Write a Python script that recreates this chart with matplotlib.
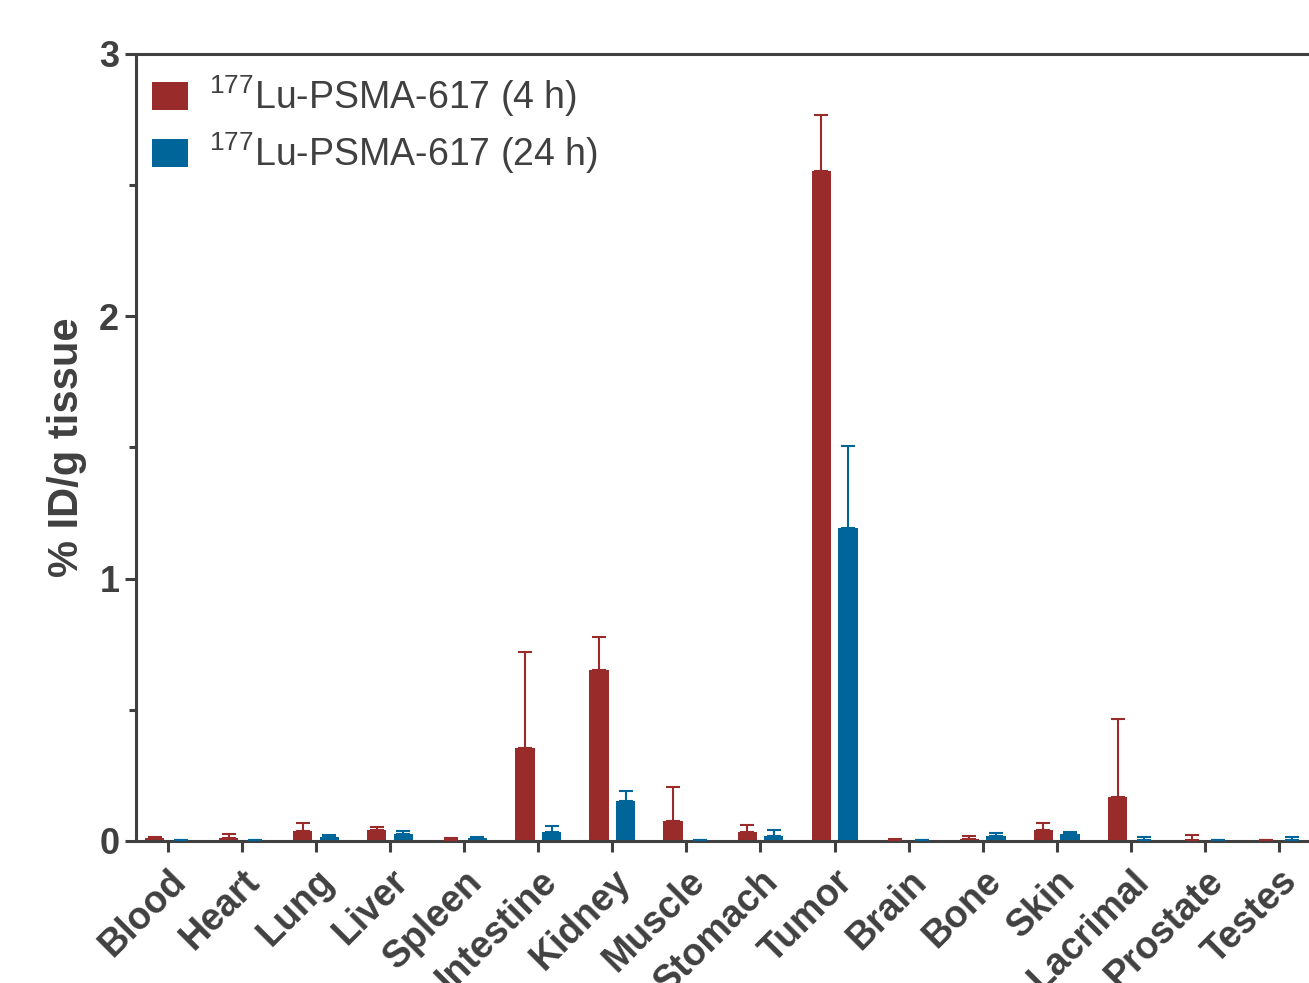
import matplotlib
matplotlib.use("Agg")
import matplotlib.pyplot as plt
import numpy as np
from matplotlib.patches import Patch

organs = ["Blood", "Heart", "Lung", "Liver", "Spleen", "Intestine", "Kidney", "Muscle",
          "Stomach", "Tumor", "Brain", "Bone", "Skin", "Lacrimal", "Prostate", "Testes"]
mean_4h = [0.010, 0.010, 0.038, 0.040, 0.005, 0.356, 0.650, 0.077,
           0.036, 2.554, 0.005, 0.006, 0.042, 0.169, 0.004, 0.002]
err_4h = [0.004, 0.017, 0.032, 0.015, 0.007, 0.364, 0.128, 0.128,
          0.025, 0.214, 0.004, 0.014, 0.028, 0.296, 0.018, 0.001]
mean_24h = [0.002, 0.003, 0.015, 0.025, 0.010, 0.036, 0.153, 0.002,
            0.019, 1.193, 0.002, 0.020, 0.025, 0.002, 0.003, 0.005]
err_24h = [0.001, 0.001, 0.006, 0.013, 0.004, 0.021, 0.037, 0.001,
           0.023, 0.313, 0.001, 0.010, 0.010, 0.013, 0.002, 0.009]
labels = [r"$^{177}$Lu-PSMA-617 (4 h)", r"$^{177}$Lu-PSMA-617 (24 h)"]

RED = "#992B2B"
BLUE = "#006699"
GRAY = "#404040"

plt.rcParams["font.family"] = ["Liberation Sans", "DejaVu Sans"]
plt.rcParams["mathtext.fontset"] = "custom"
plt.rcParams["mathtext.rm"] = "Liberation Sans"
plt.rcParams["mathtext.it"] = "Liberation Sans:italic"
plt.rcParams["mathtext.bf"] = "Liberation Sans:bold"

fig = plt.figure(figsize=(13.09, 9.83), dpi=100)
ax = fig.add_axes([0.1039, 0.1445, 0.8961, 0.8006])

x = np.arange(len(organs))
w = 0.26
off = 0.18
ax.bar(x - off, mean_4h, w, color=RED, zorder=2)
ax.bar(x + off, mean_24h, w, color=BLUE, zorder=2)
ax.errorbar(x - off, mean_4h, yerr=[np.zeros(len(x)), err_4h], fmt="none",
            ecolor=RED, elinewidth=1.5, capsize=5, capthick=1.5, zorder=3)
ax.errorbar(x + off, mean_24h, yerr=[np.zeros(len(x)), err_24h], fmt="none",
            ecolor=BLUE, elinewidth=1.5, capsize=5, capthick=1.5, zorder=3)

ax.set_xlim(-0.43, 15.405)
ax.set_ylim(0, 3)
ax.set_yticks([0, 1, 2, 3])
ax.set_yticks([0.5, 1.5, 2.5], minor=True)
ax.set_xticks(x)
ax.set_xticklabels(organs, rotation=45, ha="right", va="top", rotation_mode="anchor",
                   fontsize=27, fontweight="bold", color=GRAY)
for t in ax.get_yticklabels():
    t.set_fontsize(26)
    t.set_fontweight("bold")
    t.set_color(GRAY)

for s in ["left", "bottom", "top"]:
    ax.spines[s].set_linewidth(2.2)
    ax.spines[s].set_color(GRAY)
ax.spines["right"].set_visible(False)
ax.tick_params(axis="both", which="major", length=8, width=2.2, color=GRAY, pad=4)
ax.tick_params(axis="y", which="minor", length=5, width=2.2, color=GRAY)
ax.tick_params(axis="x", pad=8)

ax.set_ylabel("% ID/g tissue", fontsize=30, fontweight="bold", color=GRAY, labelpad=9)

handles = [Patch(facecolor=RED), Patch(facecolor=BLUE)]
leg = ax.legend(handles, labels, loc="upper left", bbox_to_anchor=(0.0014, 0.993),
                frameon=False, fontsize=27, handlelength=0.97, handleheight=0.78,
                handletextpad=0.55, labelspacing=0.3, borderaxespad=0.0, borderpad=0.38)
for t in leg.get_texts():
    t.set_color(GRAY)

fig.savefig("out.png", dpi=100)
